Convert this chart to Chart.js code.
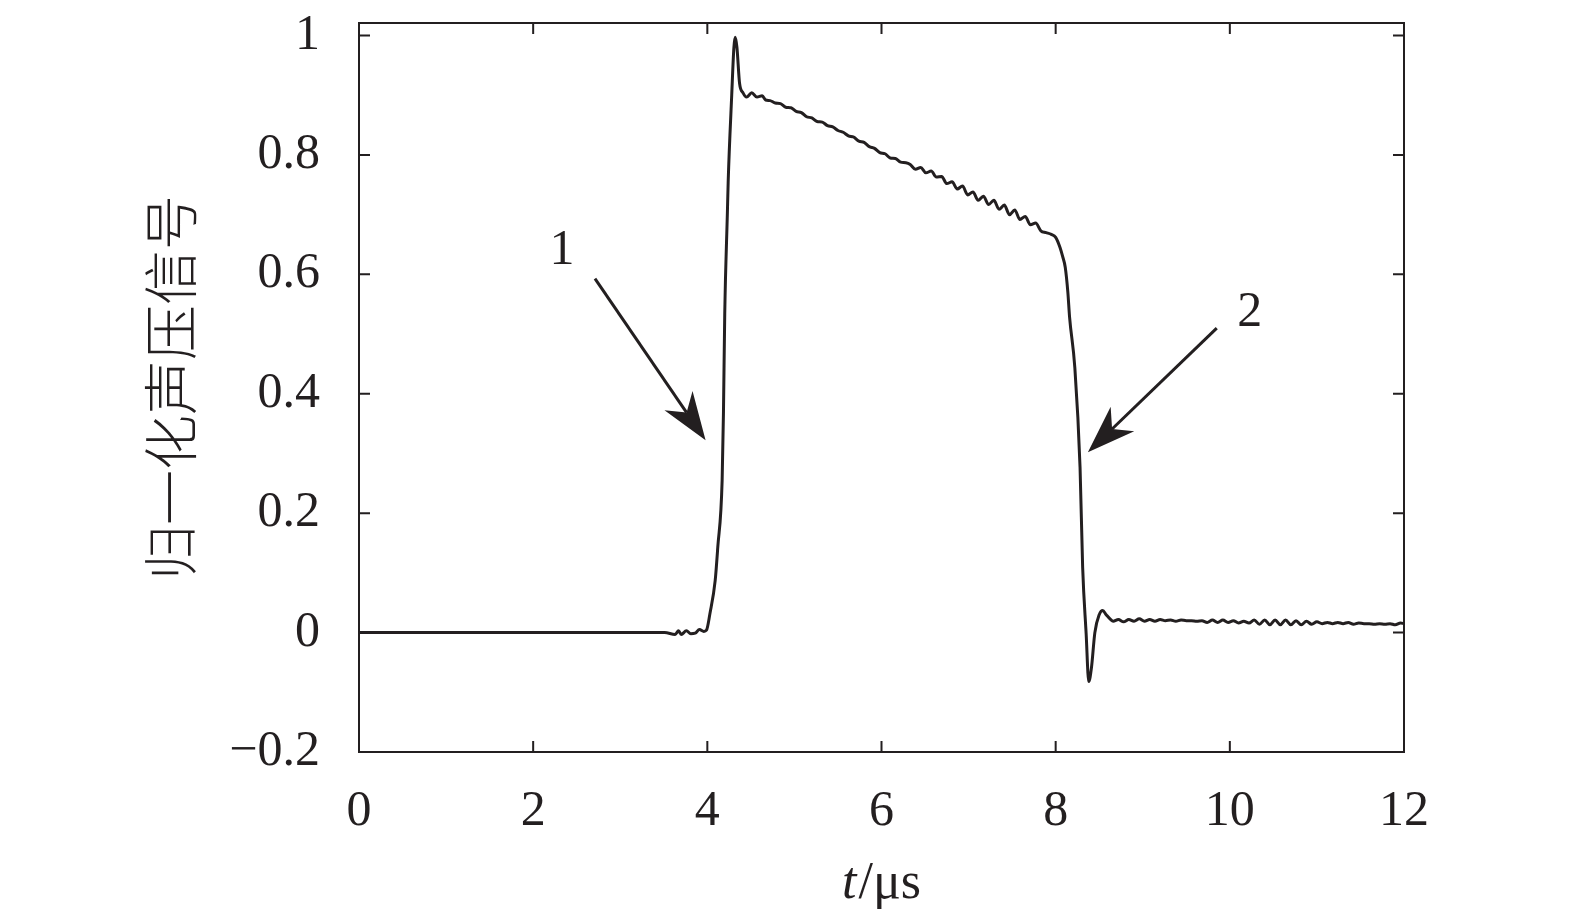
<!DOCTYPE html>
<html><head><meta charset="utf-8">
<script src="https://cdn.jsdelivr.net/npm/chart.js@4/dist/chart.umd.min.js"></script>
<style>html,body{margin:0;padding:0;background:#fff;overflow:hidden}#wrap{width:1575px;height:921px}</style>
</head><body><div id="wrap"><canvas id="c" width="1575" height="921"></canvas></div>
<script>
// time axis (μs)
const timeUs = [
  0, 3.51, 3.63, 3.67, 3.70, 3.76, 3.81, 3.86, 3.91, 3.96,
  3.99, 4.03, 4.09, 4.12, 4.17, 4.185, 4.20, 4.23, 4.24, 4.28,
  4.305, 4.32, 4.34, 4.37, 4.41, 4.45, 4.51, 4.57, 4.63, 4.67,
  4.72, 4.78, 4.84, 4.90, 4.96, 5.02, 5.08, 5.14, 5.20, 5.26,
  5.32, 5.38, 5.44, 5.50, 5.56, 5.62, 5.68, 5.74, 5.80, 5.86,
  5.92, 5.98, 6.04, 6.10, 6.16, 6.22, 6.28, 6.33, 6.39, 6.45,
  6.51, 6.57, 6.63, 6.69, 6.75, 6.81, 6.87, 6.93, 6.99, 7.05,
  7.11, 7.17, 7.23, 7.29, 7.35, 7.41, 7.47, 7.53, 7.59, 7.65,
  7.71, 7.77, 7.83, 7.89, 7.95, 8.00, 8.05, 8.08, 8.11, 8.14,
  8.16, 8.22, 8.28, 8.31, 8.35, 8.38, 8.41, 8.45, 8.50, 8.54,
  8.58, 8.63, 8.66, 8.72, 8.78, 8.84, 8.90, 8.96, 9.02, 9.08,
  9.14, 9.20, 9.26, 9.32, 9.38, 9.44, 9.50, 9.56, 9.62, 9.68,
  9.74, 9.80, 9.86, 9.92, 9.98, 10.04, 10.10, 10.16, 10.22, 10.28,
  10.34, 10.40, 10.46, 10.52, 10.58, 10.64, 10.70, 10.76, 10.82, 10.88,
  10.94, 11.00, 11.06, 11.12, 11.18, 11.24, 11.30, 11.36, 11.42, 11.48,
  11.54, 11.60, 11.66, 11.72, 11.78, 11.84, 11.90, 11.96, 12.00
];
// normalised acoustic pressure signal
const signal = [
  0, 0, -0.003, 0.003, -0.003, 0.003, -0.002, -0.001, 0.005, 0.002,
  0.004, 0.032, 0.087, 0.143, 0.255, 0.367, 0.535, 0.702, 0.758, 0.90,
  0.98, 0.997, 0.98, 0.92, 0.904, 0.897, 0.904, 0.897, 0.899, 0.892,
  0.891, 0.887, 0.886, 0.880, 0.879, 0.873, 0.871, 0.864, 0.862, 0.856,
  0.855, 0.849, 0.847, 0.841, 0.838, 0.832, 0.830, 0.823, 0.821, 0.814,
  0.811, 0.804, 0.802, 0.795, 0.794, 0.788, 0.787, 0.784, 0.776, 0.779,
  0.770, 0.773, 0.763, 0.764, 0.752, 0.755, 0.743, 0.748, 0.733, 0.738,
  0.724, 0.731, 0.717, 0.724, 0.709, 0.716, 0.700, 0.708, 0.692, 0.697,
  0.683, 0.686, 0.673, 0.670, 0.667, 0.662, 0.645, 0.630, 0.612, 0.570,
  0.528, 0.444, 0.277, 0.109, -0.002, -0.082, -0.060, 0.000, 0.030, 0.037,
  0.030, 0.022, 0.019, 0.022, 0.018, 0.022, 0.019, 0.023, 0.019, 0.022,
  0.019, 0.022, 0.020, 0.021, 0.019, 0.021, 0.020, 0.020, 0.019, 0.020,
  0.017, 0.021, 0.017, 0.021, 0.017, 0.020, 0.016, 0.019, 0.016, 0.021,
  0.014, 0.021, 0.013, 0.021, 0.013, 0.021, 0.013, 0.020, 0.013, 0.019,
  0.014, 0.018, 0.015, 0.017, 0.015, 0.017, 0.015, 0.017, 0.014, 0.016,
  0.015, 0.015, 0.014, 0.015, 0.014, 0.015, 0.013, 0.016, 0.015
];
const xTickValues = [0, 2, 4, 6, 8, 10, 12];
const xTickLabels = ['0', '2', '4', '6', '8', '10', '12'];
const yTickValues = [-0.2, 0, 0.2, 0.4, 0.6, 0.8, 1];
const yTickLabels = ['\u22120.2', '0', '0.2', '0.4', '0.6', '0.8', '1'];
const yTitle = '归一化声压信号';
const xTitleItalic = 't';
const xTitleRest = '/μs';
// annotations (data units)
const arrowLabels = ['1', '2'];
const arrowLabelT = [2.33, 10.23];
const arrowLabelV = [0.64, 0.536];
const arrowStartT = [2.71, 9.85];
const arrowStartV = [0.593, 0.51];
const arrowTipT = [3.98, 8.37];
const arrowTipV = [0.322, 0.302];

const INK = '#231f20';
const SERIF = '"Liberation Serif", "DejaVu Serif", serif';

const framePlugin = {
  id: 'frame',
  afterDatasetsDraw(chart) {
    const {ctx, chartArea: a, scales: {x, y}} = chart;
    ctx.save();
    ctx.strokeStyle = INK;
    ctx.lineWidth = 2;
    ctx.strokeRect(a.left, a.top, a.right - a.left, a.bottom - a.top);
    const tl = 11;
    ctx.beginPath();
    xTickValues.forEach(v => {
      const px = x.getPixelForValue(v);
      ctx.moveTo(px, a.bottom); ctx.lineTo(px, a.bottom - tl);
      ctx.moveTo(px, a.top); ctx.lineTo(px, a.top + tl);
    });
    yTickValues.forEach(v => {
      const py = y.getPixelForValue(v);
      ctx.moveTo(a.left, py); ctx.lineTo(a.left + tl, py);
      ctx.moveTo(a.right, py); ctx.lineTo(a.right - tl, py);
    });
    ctx.stroke();

    // arrows
    ctx.fillStyle = INK;
    for (let i = 0; i < arrowLabels.length; i++) {
      const sx = x.getPixelForValue(arrowStartT[i]), sy = y.getPixelForValue(arrowStartV[i]);
      const tx = x.getPixelForValue(arrowTipT[i]), ty = y.getPixelForValue(arrowTipV[i]);
      const dx = tx - sx, dy = ty - sy, len = Math.hypot(dx, dy);
      const ux = dx / len, uy = dy / len, nx = -uy, ny = ux;
      const L = 48, W = 17, N = 0.7;
      ctx.beginPath();
      ctx.lineWidth = 3;
      ctx.moveTo(sx, sy);
      ctx.lineTo(tx - ux * L * N, ty - uy * L * N);
      ctx.stroke();
      ctx.beginPath();
      ctx.moveTo(tx, ty);
      ctx.lineTo(tx - ux * L + nx * W, ty - uy * L + ny * W);
      ctx.lineTo(tx - ux * L * N, ty - uy * L * N);
      ctx.lineTo(tx - ux * L - nx * W, ty - uy * L - ny * W);
      ctx.closePath();
      ctx.fill();
      ctx.font = '50px ' + SERIF;
      ctx.textAlign = 'center';
      ctx.textBaseline = 'middle';
      ctx.fillText(arrowLabels[i], x.getPixelForValue(arrowLabelT[i]), y.getPixelForValue(arrowLabelV[i]));
    }

    // x title with italic t
    ctx.textBaseline = 'alphabetic';
    ctx.textAlign = 'left';
    const fi = 'italic 52px ' + SERIF, fr = '52px ' + SERIF;
    ctx.font = fi; const w1 = ctx.measureText(xTitleItalic).width;
    ctx.font = fr; const w2 = ctx.measureText(xTitleRest).width;
    const cx = (a.left + a.right) / 2, by = 898;
    let start = cx - (w1 + w2 + 2) / 2;
    ctx.font = fi; ctx.fillText(xTitleItalic, start, by);
    ctx.font = fr; ctx.fillText(xTitleRest, start + w1 + 2, by);
    ctx.restore();
  }
};

new Chart(document.getElementById('c'), {
  type: 'line',
  data: {
    datasets: [{
      data: timeUs.map((t, i) => ({x: t, y: signal[i]})),
      borderColor: INK,
      borderWidth: 3,
      pointRadius: 0,
      fill: false,
      cubicInterpolationMode: 'monotone'
    }]
  },
  options: {
    responsive: false,
    animation: false,
    events: [],
    layout: {padding: {top: 23, right: 171, left: 0, bottom: 0}},
    plugins: {legend: {display: false}, tooltip: {enabled: false}},
    scales: {
      x: {
        type: 'linear', min: 0, max: 12,
        afterBuildTicks: s => { s.ticks = xTickValues.map(v => ({value: v})); },
        afterFit: s => { s.height = 169; s.paddingLeft = 0; s.paddingRight = 0; },
        grid: {display: false, drawTicks: false},
        border: {display: false},
        ticks: {
          autoSkip: false, maxRotation: 0, padding: 30, color: INK,
          font: {family: SERIF, size: 50},
          callback: v => xTickLabels[xTickValues.indexOf(v)]
        }
      },
      y: {
        type: 'linear', min: -0.2, max: 1.021,
        afterBuildTicks: s => { s.ticks = yTickValues.map(v => ({value: v})); },
        afterFit: s => { s.width = 359; s.paddingTop = 0; s.paddingBottom = 0; },
        grid: {display: false, drawTicks: false},
        border: {display: false},
        ticks: {
          autoSkip: false, padding: 39, color: INK,
          font: {family: SERIF, size: 50},
          callback: v => yTickLabels[yTickValues.indexOf(v)]
        },
        title: {
          display: true, text: yTitle, color: INK,
          font: {family: '"Noto Sans CJK SC", sans-serif', size: 55, weight: '300'},
          padding: {top: 137, bottom: 0}
        }
      }
    }
  },
  plugins: [framePlugin]
});
</script>
</body></html>
